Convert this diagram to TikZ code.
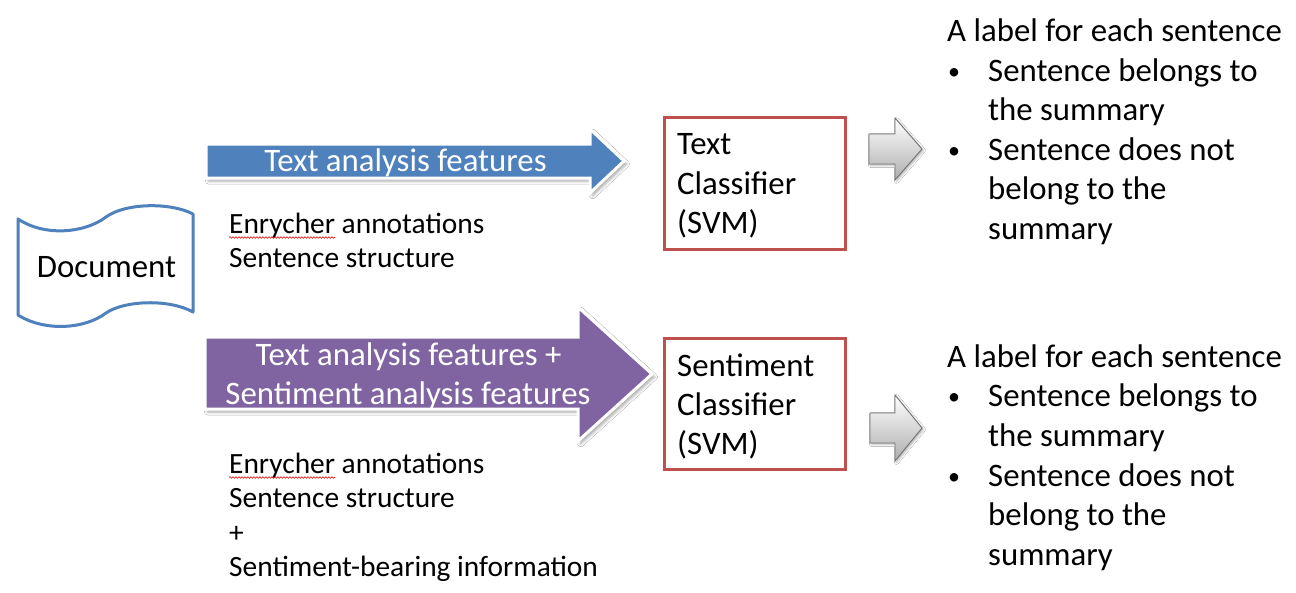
\documentclass[tikz,border=0pt]{standalone}
\usepackage{fontspec}
\setmainfont{Carlito}
\usetikzlibrary{shadows.blur,decorations.pathmorphing}
\definecolor{featblue}{HTML}{4F81BD}
\definecolor{featpurple}{HTML}{8064A2}
\definecolor{boxred}{HTML}{C0504D}
\definecolor{tapeblue}{HTML}{4F81BD}
\begin{document}
\begin{tikzpicture}[x=1pt,y=-1pt,
  bigtxt/.style={font=\fontsize{32.8}{39.6}\selectfont, inner sep=0pt, anchor=base west},
  smalltxt/.style={font=\fontsize{29.4}{34.5}\selectfont, inner sep=0pt, anchor=base west},
  bul/.style={font=\fontsize{24}{30}\selectfont, inner sep=0pt, anchor=base},
  fatarrow/.style={draw=white, line width=3pt, line join=miter,
    blur shadow={shadow xshift=2.5pt, shadow yshift=-3pt, shadow opacity=35, shadow blur radius=3pt}},
  outarrow/.style={top color=white, bottom color=black!32, draw=black!55, line width=0.9pt,
    line join=miter,
    blur shadow={shadow xshift=1.5pt, shadow yshift=-1.5pt, shadow opacity=30, shadow blur radius=2pt}},
  clsbox/.style={draw=boxred, line width=3pt, fill=white},
  spell/.style={draw=red!85!black, line width=0.6pt,
    decorate, decoration={snake, segment length=3pt, amplitude=0.8pt}}]
\useasboundingbox (0,0) rectangle (1296,592);
\fill[white] (0,0) rectangle (1296,592);

% input document (punched-tape shape)
\draw[tapeblue, line width=3pt, fill=white, line join=round]
  (18,219) .. controls (45,237) and (85,233) .. (106,217)
           .. controls (125,203) and (170,202) .. (193,214)
  -- (193,312)
           .. controls (170,299) and (125,300) .. (106,313)
           .. controls (85,329) and (45,332) .. (18,315) -- cycle;
\node[bigtxt, anchor=center] (doc) at (106.5,267) {Document};

% feature arrows
\fill[featblue, fatarrow]
  (206,144) -- (590,144) -- (590,129) -- (624,161) -- (590,193) -- (590,178) -- (206,178) -- cycle;
\node[bigtxt, anchor=base, text=white] (featA) at (405.5,171) {Text analysis features};

\fill[featpurple, fatarrow]
  (205,337) -- (578,337) -- (578,307) -- (652,374) -- (578,441) -- (578,409) -- (205,409) -- cycle;
\node[bigtxt, anchor=base, text=white] (featB1) at (408.5,365) {Text analysis features +};
\node[bigtxt, anchor=base, text=white] (featB2) at (408,404) {Sentiment analysis features};

% feature descriptions
\node[smalltxt] (enrA) at (229,233) {Enrycher annotations};
\node[smalltxt] (strA) at (229,267.5) {Sentence structure};
\draw[spell] (229,237.5) -- (335,237.5);

\node[smalltxt] (enrB) at (229,473) {Enrycher annotations};
\node[smalltxt] (strB) at (229,507.5) {Sentence structure};
\node[smalltxt] (plusB) at (229,542) {+};
\node[smalltxt] (sentB) at (229,576.5) {Sentiment-bearing information};
\draw[spell] (229,477.5) -- (335,477.5);

% classifiers
\node[clsbox, anchor=north west, minimum width=181pt, minimum height=132pt] (clsA) at (663,116) {};
\node[bigtxt] (clsA1) at (677,154) {Text};
\node[bigtxt] (clsA2) at (677,194) {Classifier};
\node[bigtxt] (clsA3) at (677,233) {(SVM)};

\node[clsbox, anchor=north west, minimum width=181pt, minimum height=131pt] (clsB) at (663,337) {};
\node[bigtxt] (clsB1) at (677,376) {Sentiment};
\node[bigtxt] (clsB2) at (677,415) {Classifier};
\node[bigtxt] (clsB3) at (677,454) {(SVM)};

% output arrows
\path[outarrow]
  (869,134) -- (895,134) -- (895,118) -- (922,149) -- (895,180) -- (895,164) -- (869,164) -- cycle;
\path[outarrow]
  (870,413) -- (895,413) -- (895,395) -- (922,428) -- (895,461) -- (895,443) -- (870,443) -- cycle;

% output labels, upper
\node[bigtxt] (labA) at (947,41) {A label for each sentence};
\node[bul] (bA1) at (954,79) {•};
\node[bigtxt] (labA1) at (988,81) {Sentence belongs to};
\node[bigtxt] (labA2) at (988,120.5) {the summary};
\node[bul] (bA2) at (954,158) {•};
\node[bigtxt] (labA3) at (988,160) {Sentence does not};
\node[bigtxt] (labA4) at (988,199.5) {belong to the};
\node[bigtxt] (labA5) at (988,239) {summary};

% output labels, lower
\node[bigtxt] (labB) at (947,367) {A label for each sentence};
\node[bul] (bB1) at (954,404.5) {•};
\node[bigtxt] (labB1) at (988,406.5) {Sentence belongs to};
\node[bigtxt] (labB2) at (988,446) {the summary};
\node[bul] (bB2) at (954,484) {•};
\node[bigtxt] (labB3) at (988,486) {Sentence does not};
\node[bigtxt] (labB4) at (988,525.5) {belong to the};
\node[bigtxt] (labB5) at (988,565) {summary};
\end{tikzpicture}
\end{document}
